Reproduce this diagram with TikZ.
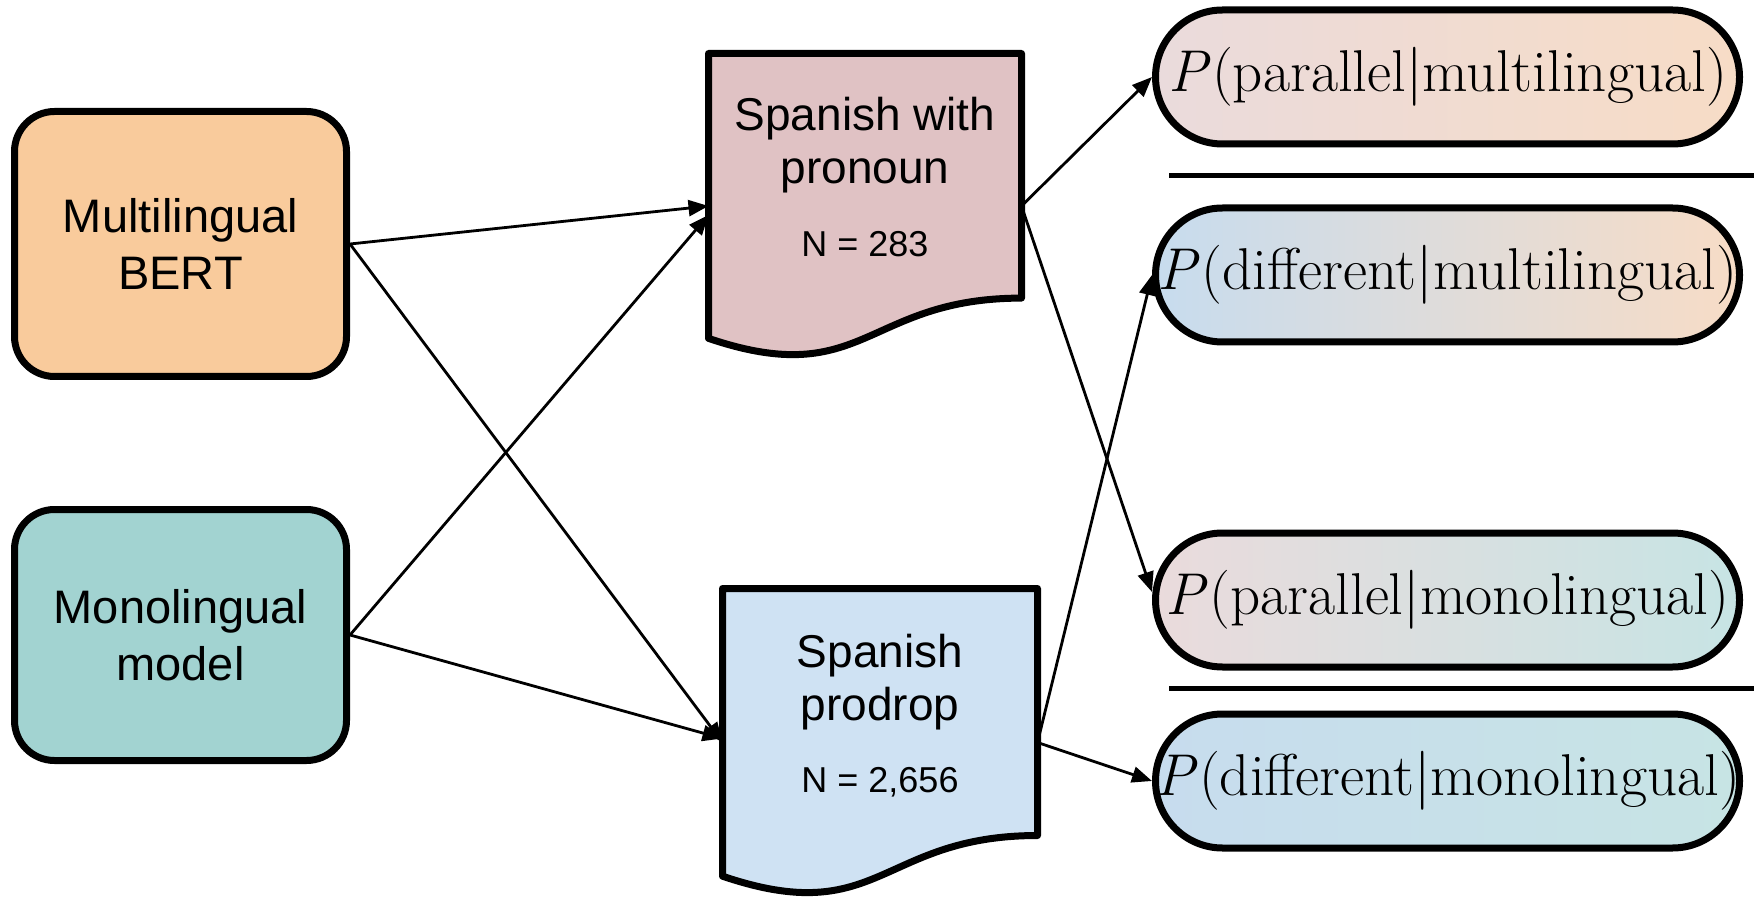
\documentclass[tikz,border=0pt]{standalone}
\usepackage{fontspec}
\setsansfont{Liberation Sans}
\usetikzlibrary{arrows.meta,calc}

\definecolor{boxorange}{RGB}{249,203,156}
\definecolor{boxteal}{RGB}{162,211,209}
\definecolor{docpink}{RGB}{224,194,196}
\definecolor{docblue}{RGB}{207,226,243}
\definecolor{fadepink}{RGB}{234,219,220}
\definecolor{fadeblue}{RGB}{199,220,238}
\definecolor{fadeorange}{RGB}{247,220,198}
\definecolor{fadeteal}{RGB}{199,228,228}

% conditional probability label, set in scalable Latin Modern text;
% zero-width box so the label never widens its frame
\newcommand{\condprob}[2]{\makebox[0pt][c]{\textit{P}\kern0.03em(#1|#2)}}

\begin{document}
\begin{tikzpicture}[x=0.5pt,y=-0.5pt,
  model/.style={draw=black,line width=3.5pt,rounded corners=20pt,minimum width=166pt,
    align=center,inner sep=0pt,font=\sffamily\fontsize{23.5}{28.5}\selectfont},
  docframe/.style={rectangle,inner sep=0pt,outer sep=0pt},
  docline/.style={draw=black,line width=3.5pt,line join=round},
  doctitle/.style={align=center,inner sep=0pt,font=\sffamily\fontsize{23}{26.5}\selectfont},
  doccount/.style={inner sep=0pt,anchor=base,font=\sffamily\fontsize{18}{20}\selectfont},
  outcome/.style={draw=black,line width=3.5pt,rounded corners=33.5pt,minimum width=292pt,
    minimum height=67pt,inner sep=0pt,font=\rmfamily\fontsize{29.5}{32}\selectfont},
  divider/.style={line width=2.5pt},
  link/.style={line width=1.4pt,-{Triangle[length=10pt,width=8pt]}},
]
\useasboundingbox (0,0) rectangle (1754,897);

% model boxes
\node[model,fill=boxorange,minimum height=132.5pt] (mb) at (180.5,244) {Multilingual\\BERT};
\node[model,fill=boxteal,minimum height=125.5pt] (mm) at (180.5,635) {Monolingual\\model};

% document frames (wavy bottom)
\node[docframe,minimum width=156.5pt,minimum height=152.5pt] (doc1) at (865,206) {};
\node[docframe,minimum width=157.5pt,minimum height=154pt] (doc2) at (880,742.5) {};
\path[docline,fill=docpink] (doc1.north west) -- (doc1.north east)
  -- ($(doc1.north east)!0.802!(doc1.south east)$)
  .. controls ($(doc1.north)!0.802!(doc1.south)$) and ($(doc1.north)!1.1075!(doc1.south)$)
  .. ($(doc1.north west)!0.934!(doc1.south west)$) -- cycle;
\path[docline,fill=docblue] (doc2.north west) -- (doc2.north east)
  -- ($(doc2.north east)!0.802!(doc2.south east)$)
  .. controls ($(doc2.north)!0.802!(doc2.south)$) and ($(doc2.north)!1.1075!(doc2.south)$)
  .. ($(doc2.north west)!0.934!(doc2.south west)$) -- cycle;
\node[doctitle] (doc1title) at (865,145) {Spanish with\\pronoun};
\node[doccount] (doc1count) at (865,257) {N = 283};
\node[doctitle] (doc2title) at (880,682) {Spanish\\prodrop};
\node[doccount] (doc2count) at (880,792) {N = 2,656};

% outcome probabilities
\node[outcome,left color=fadepink,right color=fadeorange] (s1) at (1447.5,77)
  {\condprob{parallel}{multilingual}};
\node[outcome,left color=fadeblue,right color=fadeorange] (s2) at (1447.5,275)
  {\condprob{different}{multilingual}};
\node[outcome,left color=fadepink,right color=fadeteal] (s3) at (1447.5,600)
  {\condprob{parallel}{monolingual}};
\node[outcome,left color=fadeblue,right color=fadeteal] (s4) at (1447.5,781)
  {\condprob{different}{monolingual}};

% separators
\draw[divider] (1169,176) -- (1754,176);
\draw[divider] (1169,688) -- (1754,688);

% connectors
\draw[link] (mb.east) -- (doc1.west);
\draw[link] (mb.east) -- (doc2.west);
\draw[link] (mm.east) -- ([yshift=-4.5pt]doc1.west);
\draw[link] (mm.east) -- ([yshift=2pt]doc2.west);
\draw[link] (doc1.east) -- (s1.west);
\draw[link] (doc1.east) -- ([yshift=4pt]s3.west);
\draw[link] (doc2.east) -- (s2.west);
\draw[link] (doc2.east) -- (s4.west);
\end{tikzpicture}
\end{document}
